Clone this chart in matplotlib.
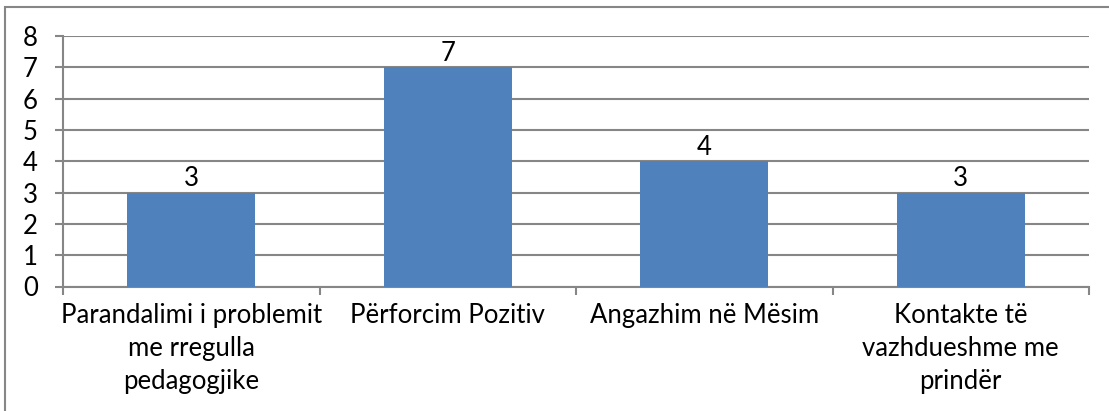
import matplotlib
matplotlib.use("Agg")
import matplotlib.pyplot as plt
from matplotlib.patches import Rectangle
from matplotlib.ticker import MultipleLocator
import numpy as np

# te dhenat e grafikut
kategorite = ["Parandalimi i problemit\nme rregulla\npedagogjike",
              "Përforcim Pozitiv",
              "Angazhim në Mësim",
              "Kontakte të\nvazhdueshme me\nprindër"]
vlerat = [3, 7, 4, 3]

plt.rcParams['font.family'] = ['Lato', 'DejaVu Sans']
gri = '#868686'
madhesia = 18.5

fig = plt.figure(figsize=(11.09, 4.11), dpi=100)
ax = fig.add_axes([63 / 1109, 1 - 286.5 / 411, (1089 - 63) / 1109, (286.5 - 36) / 411])

x = np.arange(len(kategorite))
bars = ax.bar(x, vlerat, width=0.5, color='#4F81BD', zorder=3)
for b, v in zip(bars, vlerat):
    ax.text(b.get_x() + b.get_width() / 2, v + 0.05, str(v),
            ha='center', va='bottom', fontsize=madhesia, zorder=4)

ax.set_xlim(-0.5, len(kategorite) - 0.5)
ax.set_ylim(0, 8)
ax.yaxis.set_major_locator(MultipleLocator(1))
ax.grid(axis='y', color=gri, linewidth=1.5, zorder=0)

# etiketat ne qender, vijat e vogla ne kufijte e kategorive
ax.set_xticks(x)
ax.set_xticklabels(kategorite, fontsize=madhesia, linespacing=1.4)
ax.set_xticks(np.arange(-0.5, len(kategorite)), minor=True)
ax.tick_params(axis='x', which='major', length=0, pad=12)
ax.tick_params(axis='x', which='minor', length=6, width=1.5, color=gri, direction='out')
ax.tick_params(axis='y', length=6, width=1.5, color=gri, labelsize=madhesia, pad=12)

for s in ['top', 'right']:
    ax.spines[s].set_visible(False)
for s in ['left', 'bottom']:
    ax.spines[s].set_color(gri)
    ax.spines[s].set_linewidth(1.5)

# korniza e jashtme
korniza = Rectangle((5 / 1109, -0.1), 1.2, 1 - 7 / 411 + 0.1, transform=fig.transFigure,
                    fill=False, edgecolor=gri, linewidth=1.5, clip_on=False)
fig.patches.append(korniza)

fig.savefig("out.png", dpi=100)
